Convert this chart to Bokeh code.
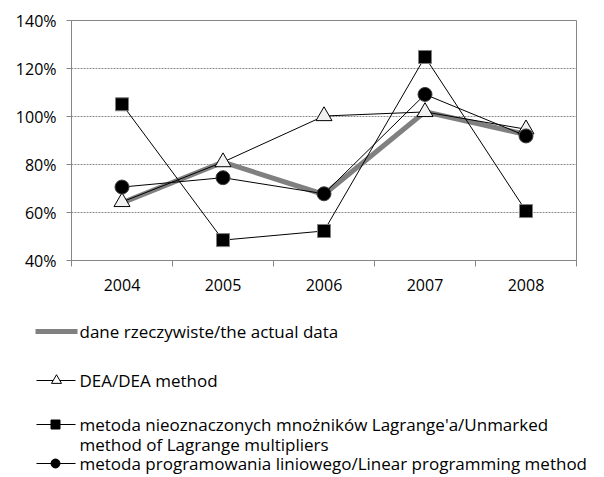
from bokeh.plotting import figure
from bokeh.models import Range1d, FixedTicker, NumeralTickFormatter, ColumnDataSource
from bokeh.core.properties import value
from bokeh.embed import file_html
from bokeh.resources import INLINE

years = ["2004", "2005", "2006", "2007", "2008"]
actual = [0.64, 0.81, 0.675, 1.02, 0.925]
dea = [0.644, 0.81, 1.002, 1.019, 0.947]
lagrange = [1.051, 0.485, 0.523, 1.248, 0.606]
linear = [0.706, 0.745, 0.678, 1.092, 0.919]
y_ticks = [0.4, 0.6, 0.8, 1.0, 1.2, 1.4]
labels = ["dane rzeczywiste/the actual data",
          "DEA/DEA method",
          "metoda nieoznaczonych mnożników Lagrange'a/Unmarked",
          "method of Lagrange multipliers",
          "metoda programowania liniowego/Linear programming method"]

FONT = "Open Sans"
GRAY = "#868686"

centers = [i + 0.5 for i in range(len(years))]
bounds = [float(i) for i in range(len(years) + 1)]
src = ColumnDataSource(dict(x=centers, actual=actual, dea=dea, lagrange=lagrange, linear=linear))

p = figure(frame_width=505, frame_height=240, x_range=Range1d(0, len(years)), y_range=Range1d(0.4, 1.4),
           output_backend="svg", toolbar_location=None,
           min_border_left=71, min_border_right=20, min_border_top=20, min_border_bottom=40)
p.outline_line_color = GRAY
p.background_fill_color = "white"
p.border_fill_color = "white"

p.xaxis.ticker = FixedTicker(ticks=centers, minor_ticks=bounds)
p.xaxis.major_label_overrides = {c: y for c, y in zip(centers, years)}
p.xaxis.major_tick_line_color = None
p.xaxis.major_tick_out = 0
p.xaxis.major_tick_in = 0
p.xaxis.minor_tick_out = 6
p.xaxis.minor_tick_in = 0
p.xaxis.minor_tick_line_color = GRAY
p.xaxis.axis_line_color = GRAY
p.xaxis.major_label_standoff = 12

p.yaxis.ticker = FixedTicker(ticks=y_ticks)
p.yaxis.formatter = NumeralTickFormatter(format="0%")
p.yaxis.major_tick_out = 5
p.yaxis.major_tick_in = 0
p.yaxis.minor_tick_line_color = None
p.yaxis.major_tick_line_color = GRAY
p.yaxis.axis_line_color = GRAY
p.yaxis.major_label_standoff = 10

for ax in (p.xaxis, p.yaxis):
    ax.major_label_text_font = FONT
    ax.major_label_text_font_size = "16px"
    ax.major_label_text_color = "#000000"

p.xgrid.grid_line_color = None
p.ygrid.ticker = FixedTicker(ticks=y_ticks)
p.ygrid.grid_line_color = "#8c8c8c"
p.ygrid.grid_line_dash = "2 1"

p.line("x", "actual", source=src, line_color="#808080", line_width=5)
p.line("x", "dea", source=src, line_color="black", line_width=1)
p.scatter("x", "dea", source=src, marker="triangle", size=16, fill_color="#f2f2f2", line_color="black", line_width=1)
p.line("x", "lagrange", source=src, line_color="black", line_width=1)
p.scatter("x", "lagrange", source=src, marker="square", size=13, fill_color="black", line_color="#7f7f7f", line_width=1)
p.line("x", "linear", source=src, line_color="black", line_width=1)
p.scatter("x", "linear", source=src, marker="circle", size=14, fill_color="black", line_color="#404040", line_width=1)

# legend panel (page coordinates)
lg = figure(width=600, height=177, x_range=Range1d(0, 600), y_range=Range1d(477, 300),
            output_backend="svg", toolbar_location=None,
            x_axis_location=None, y_axis_location=None,
            min_border_left=0, min_border_right=0, min_border_top=0, min_border_bottom=0)
lg.grid.visible = False
lg.outline_line_color = None

lg.line([35, 77], [331, 331], line_color="#808080", line_width=5)
for yy in [380, 424, 463]:
    lg.line([36, 75], [yy, yy], line_color="black", line_width=1)
lg.scatter([56], [380], marker="triangle", size=10, fill_color="white", line_color="black")
lg.scatter([55], [424], marker="square", size=9, fill_color="black", line_color="black")
lg.scatter([55], [463], marker="circle", size=9, fill_color="black", line_color="black")

lg.text(x=[79, 79, 79, 79, 79], y=[331, 380, 424, 444, 463], text=labels,
        text_font=value(FONT), text_font_size="17px", text_color="black",
        text_baseline="middle", text_align="left")

open("out.html", "w").write(file_html([p, lg], INLINE))
